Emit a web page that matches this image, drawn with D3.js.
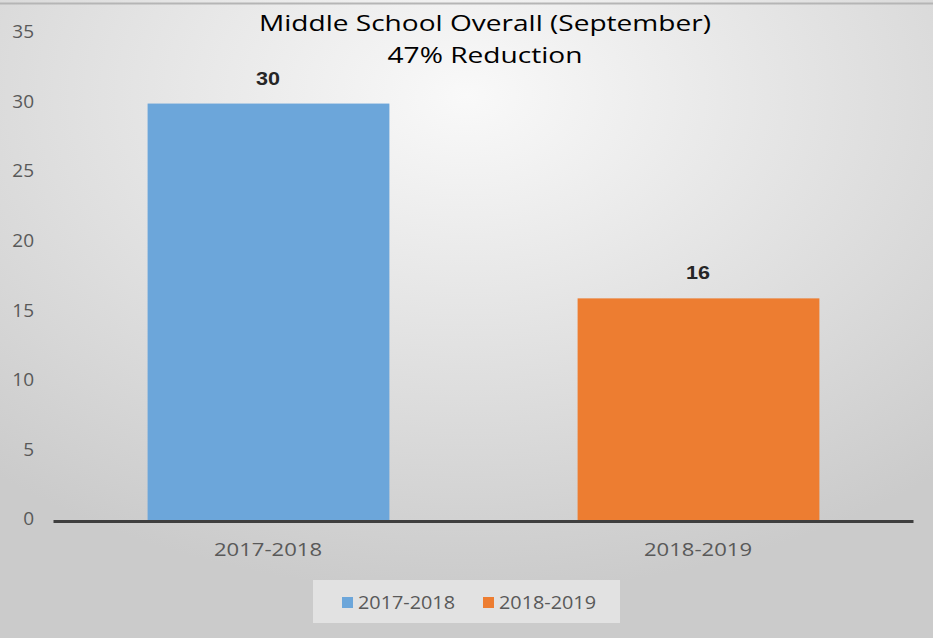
<!DOCTYPE html>
<html>
<head>
<meta charset="utf-8">
<script src="https://cdn.jsdelivr.net/npm/d3@7"></script>
<style>
  body { margin: 0; background: #fff; }
  svg { display: block; }
</style>
</head>
<body>
<script>
var SEASONS = ["2017-2018", "2018-2019"];
var VALUES = [30, 16];
var COLORS = ["#6ca6da", "#ed7d31"];
var Y_TICKS = [0, 5, 10, 15, 20, 25, 30, 35];
var TITLE = ["Middle School Overall (September)", "47% Reduction"];

var W = 933, H = 638;
var margin = { top: 34, right: 20, bottom: 117, left: 53 };

var svg = d3.select("body").append("svg").attr("width", W).attr("height", H);

// fondo con degradado radial, como el gráfico de Excel
var defs = svg.append("defs");
var grad = defs.append("radialGradient").attr("id", "bg")
  .attr("cx", "50%").attr("cy", "15%").attr("r", "78%");
grad.append("stop").attr("offset", "0%").attr("stop-color", "#f9f9f9");
grad.append("stop").attr("offset", "100%").attr("stop-color", "#cbcbcb");

svg.append("rect").attr("width", W).attr("height", H).attr("fill", "url(#bg)");
svg.append("line").attr("x1", 0).attr("x2", W).attr("y1", 3.5).attr("y2", 3.5)
  .attr("stroke", "#b5b5b5").attr("stroke-width", 2);

var x = d3.scaleBand().domain(SEASONS)
  .range([margin.left, W - margin.right])
  .paddingInner(0.44).paddingOuter(0.22);
var y = d3.scaleLinear().domain([0, 35]).range([H - margin.bottom, margin.top]);

// barras
svg.selectAll("rect.bar").data(VALUES).enter().append("rect")
  .attr("class", "bar")
  .attr("x", function (d, i) { return x(SEASONS[i]); })
  .attr("width", x.bandwidth() + 1)
  .attr("y", function (d) { return y(d); })
  .attr("height", function (d) { return y(0) - y(d); })
  .attr("fill", function (d, i) { return COLORS[i]; });

// etiquetas de valor
svg.selectAll("text.val").data(VALUES).enter().append("text")
  .attr("class", "val")
  .attr("x", function (d, i) { return x(SEASONS[i]) + x.bandwidth() / 2; })
  .attr("y", function (d) { return y(d) - 19; })
  .attr("text-anchor", "middle")
  .attr("font-family", "Liberation Sans, Arial, sans-serif")
  .attr("font-weight", "bold").attr("font-size", 18)
  .attr("textLength", 24).attr("lengthAdjust", "spacingAndGlyphs")
  .attr("fill", "#262626")
  .text(function (d) { return d; });

// eje y (solo etiquetas)
var yAxis = svg.append("g").attr("transform", "translate(" + 34 + ",0)")
  .call(d3.axisLeft(y).tickValues(Y_TICKS).tickSize(0).tickPadding(0));
yAxis.select(".domain").remove();
yAxis.selectAll("text")
  .attr("dy", "0.2em")
  .attr("font-family", "Open Sans, sans-serif").attr("font-size", 19)
  .attr("fill", "#595959");

// eje x
var xAxis = svg.append("g").attr("transform", "translate(0," + y(0) + ")")
  .call(d3.axisBottom(x).tickSize(0).tickPadding(22));
xAxis.select(".domain").attr("stroke", "#3f3f3f").attr("stroke-width", 3);
xAxis.selectAll("text")
  .attr("font-family", "Open Sans, sans-serif").attr("font-size", 19)
  .attr("textLength", 108).attr("lengthAdjust", "spacingAndGlyphs")
  .attr("fill", "#595959");

// título
var TITLE_LEN = [452, 195];
svg.selectAll("text.title").data(TITLE).enter().append("text")
  .attr("class", "title")
  .attr("x", 485)
  .attr("y", function (d, i) { return 31 + i * 32; })
  .attr("text-anchor", "middle")
  .attr("font-family", "Open Sans, sans-serif").attr("font-size", 22)
  .attr("textLength", function (d, i) { return TITLE_LEN[i]; })
  .attr("lengthAdjust", "spacingAndGlyphs")
  .attr("fill", "#000")
  .text(function (d) { return d; });

// leyenda
var legend = svg.append("g").attr("transform", "translate(313,580)");
legend.append("rect").attr("width", 307).attr("height", 43).attr("fill", "#e2e2e2");
var items = legend.selectAll("g.item").data(SEASONS).enter().append("g")
  .attr("class", "item")
  .attr("transform", function (d, i) { return "translate(" + (29 + i * 141) + ",0)"; });
items.append("rect").attr("y", 17).attr("width", 11).attr("height", 11)
  .attr("fill", function (d, i) { return COLORS[i]; });
items.append("text").attr("x", 16).attr("y", 29)
  .attr("font-family", "Open Sans, sans-serif").attr("font-size", 18)
  .attr("textLength", 97).attr("lengthAdjust", "spacingAndGlyphs")
  .attr("fill", "#595959")
  .text(function (d) { return d; });
</script>
</body>
</html>
